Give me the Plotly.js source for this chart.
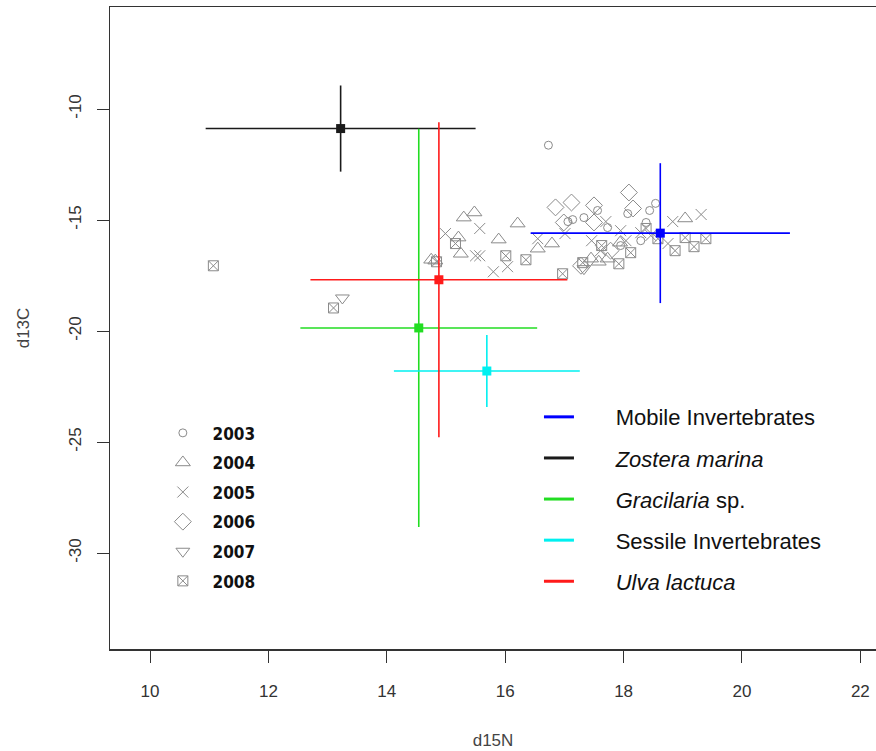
<!DOCTYPE html>
<html><head><meta charset="utf-8">
<script src="https://cdn.plot.ly/plotly-3.0.1.min.js"></script>
<style>html,body{margin:0;padding:0;background:#fff}</style>
</head><body><div id="chart" style="width:876px;height:751px"></div>
<script>
// ---- data: individual samples by year (d15N, d13C) ----
const years = ['2003','2004','2005','2006','2007','2008'];
const n2003 = [16.73,17.06,17.14,17.33,17.56,17.73,18.07,18.44,18.54,18.38,17.95,18.29];
const c2003 = [-11.63,-15.07,-14.98,-14.89,-14.57,-15.34,-14.71,-14.57,-14.25,-15.11,-16.15,-15.93];
const n2004 = [15.48,15.30,16.21,15.21,15.89,15.25,14.75,14.82,16.55,16.79,17.58,19.04,17.94,17.45,17.73];
const c2004 = [-14.66,-14.89,-15.16,-15.79,-15.88,-16.52,-16.79,-16.83,-16.29,-16.06,-16.88,-14.93,-16.02,-16.74,-16.74];
const n2005 = [14.99,15.57,15.50,15.57,15.80,16.04,16.55,17.01,17.46,17.70,17.95,18.83,19.31,18.75,18.29,17.61,18.04,18.46];
const c2005 = [-15.61,-15.38,-16.61,-16.61,-17.33,-17.10,-15.84,-15.61,-15.93,-15.07,-15.48,-15.07,-14.75,-16.06,-15.57,-16.38,-15.93,-15.70];
const n2006 = [16.85,17.12,17.50,18.09,18.16,17.50,16.99,17.28,17.78];
const c2006 = [-14.43,-14.21,-14.34,-13.76,-14.48,-15.11,-15.11,-17.06,-16.38];
const n2007 = [13.25,17.33];
const c2007 = [-18.51,-17.19];
const n2008 = [11.07,13.10,14.84,15.16,16.01,16.35,16.97,17.31,17.63,17.92,18.12,18.38,18.58,18.87,19.04,19.19,19.39];
const c2008 = [-17.06,-18.96,-16.88,-16.06,-16.61,-16.79,-17.42,-16.92,-16.15,-16.97,-16.47,-15.38,-15.84,-16.38,-15.79,-16.20,-15.84];

// ---- data: group means and spreads ----
const groups = ['Mobile Invertebrates','Zostera marina','Gracilaria sp.','Sessile Invertebrates','Ulva lactuca'];
const meanN = [18.62, 13.22, 14.54, 15.69, 14.88];
const meanC = [-15.59, -10.88, -19.86, -21.80, -17.69];
const sdN = [2.19, 2.28, 2.00, 1.57, 2.17];
const sdC = [3.15, 1.94, 8.97, 1.62, 7.09];

// ---- tick labels ----
const xTicks = [10,12,14,16,18,20,22];
const yTicks = [-30,-25,-20,-15,-10];

// ---- styles ----
const groupLabels = ['Mobile Invertebrates','<i>Zostera marina</i>','<i>Gracilaria</i> sp.','Sessile Invertebrates','<i>Ulva lactuca</i>'];
const groupColors = ['#0000ff','#1a1a1a','#22dd22','#00f0f0','#ff1a1a'];
const yearSymbols = ['circle-open','triangle-up-open','x-thin-open','diamond-open','triangle-down-open','square-x-open'];
const yearSizes = [8,13,11,13,12,10];
const grey = '#8a8a8a';
const yearN = [n2003,n2004,n2005,n2006,n2007,n2008];
const yearC = [c2003,c2004,c2005,c2006,c2007,c2008];
const NB = '\u00a0';

const traces = [];
years.forEach((yr,i)=>{
  traces.push({
    type:'scatter', mode:'markers', x:yearN[i], y:yearC[i],
    name:NB+NB+'<b>'+yr+'</b>', legend:'legend', legendgroup:'y'+yr,
    marker:{symbol:yearSymbols[i], size:yearSizes[i], color:grey, line:{color:grey,width:1}},
    hoverinfo:'x+y'
  });
});
groups.forEach((g,i)=>{
  const m=meanN[i], c=meanC[i], sx=sdN[i], sy=sdC[i];
  traces.push({
    type:'scatter', mode:'lines',
    x:[m-sx, m+sx, null, m, m], y:[c, c, null, c-sy, c+sy],
    name:g, showlegend:false, legendgroup:'g'+i,
    line:{color:groupColors[i], width:1.6}, hoverinfo:'skip'
  });
});
// legend-only entries (no data of their own)
groups.forEach((g,i)=>{
  traces.push({
    type:'scatter', mode:'lines', x:[null], y:[null],
    name:NB+NB+NB+NB+NB+NB+groupLabels[i], legend:'legend2', legendgroup:'g'+i,
    line:{color:groupColors[i], width:3}, hoverinfo:'skip'
  });
});
groups.forEach((g,i)=>{
  traces.push({
    type:'scatter', mode:'markers', x:[meanN[i]], y:[meanC[i]],
    name:g, showlegend:false, legendgroup:'g'+i,
    marker:{symbol:'square', size:9, color:groupColors[i]}
  });
});

const layout = {
  width:876, height:751,
  margin:{l:110, r:0, t:7, b:102},
  paper_bgcolor:'#fff', plot_bgcolor:'#fff',
  font:{family:'Liberation Sans, Arial, sans-serif', color:'#333'},
  showlegend:true,
  xaxis:{
    range:[9.324, 22.264], tickvals:xTicks, ticktext:xTicks.map(String),
    ticks:'outside', ticklen:12, tickwidth:1, tickcolor:'#333',
    showline:true, linecolor:'#333', linewidth:1.5, mirror:true,
    showgrid:false, zeroline:false, ticklabelstandoff:14,
    tickfont:{size:17, color:'#333'},
    title:{text:'d15N', font:{size:17, color:'#444'}, standoff:34}
  },
  yaxis:{
    range:[-34.32, -5.405], tickvals:yTicks, ticktext:yTicks.map(String),
    ticks:'outside', ticklen:12, tickwidth:1, tickcolor:'#333', tickangle:-90,
    showline:true, linecolor:'#333', linewidth:1.5, mirror:false,
    showgrid:false, zeroline:false, ticklabelstandoff:9,
    tickfont:{size:17, color:'#333'},
    title:{text:'d13C', font:{size:17, color:'#444'}, standoff:32}
  },
  legend:{
    x:0.069, y:0.364, xanchor:'left', yanchor:'top',
    bgcolor:'rgba(255,255,255,0)', borderwidth:0,
    traceorder:'grouped', tracegroupgap:4.5,
    font:{family:'DejaVu Sans Condensed, Liberation Sans Narrow, Arial Narrow, sans-serif', size:17, color:'#111'}
  },
  legend2:{
    x:0.56, y:0.394, xanchor:'left', yanchor:'top',
    bgcolor:'rgba(255,255,255,0)', borderwidth:0,
    traceorder:'grouped', tracegroupgap:9.5,
    font:{family:'Liberation Sans, Arial, sans-serif', size:22, color:'#111'}
  }
};
Plotly.newPlot('chart', traces, layout, {displayModeBar:false, staticPlot:true});
</script>
</body></html>
